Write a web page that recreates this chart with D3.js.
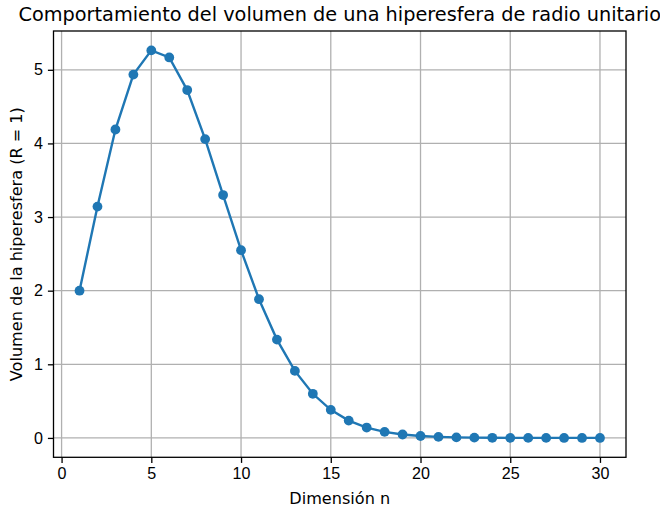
<!DOCTYPE html>
<html>
<head>
<meta charset="utf-8">
<script src="https://cdn.jsdelivr.net/npm/d3@7"></script>
<style>
  body { margin: 0; background: #fff; }
  svg { font-family: "DejaVu Sans", sans-serif; }
  .tick text { font-size: 16.1px; fill: #000; }
</style>
</head>
<body>
<svg id="fig" width="660" height="508"></svg>
<script>
// dimension n and volume of the unit n-ball
const dims = d3.range(1, 31);
const volumes = [2.0, 3.1416, 4.1888, 4.9348, 5.2638, 5.1677, 4.7248, 4.0587, 3.2985, 2.5502,
    1.8841, 1.3353, 0.9106, 0.5993, 0.3814, 0.2353, 0.1410, 0.0822, 0.0466, 0.0258,
    0.0139, 0.0073, 0.0038, 0.0019, 0.00095, 0.00046, 0.00022, 0.00010, 0.000047, 0.000021];
const xTicks = [0, 5, 10, 15, 20, 25, 30];
const yTicks = [0, 1, 2, 3, 4, 5];

const data = dims.map((n, i) => ({ n: n, v: volumes[i] }));

const mLeft = 53.5, mRight = 626, mTop = 31, mBottom = 457.3;
const color = "#1f77b4";

// matplotlib-style 5% padding
const xPad = (30 - 1) * 0.05;
const yMax = d3.max(volumes), yPad = yMax * 0.05;
const xScale = d3.scaleLinear().domain([1 - xPad, 30 + xPad]).range([mLeft, mRight]);
const yScale = d3.scaleLinear().domain([0 - yPad, yMax + yPad]).range([mBottom, mTop]);

const Fig = d3.select("#fig");

// grid
Fig.append("g").selectAll("line").data(xTicks).join("line")
    .attr("x1", d => xScale(d)).attr("x2", d => xScale(d))
    .attr("y1", mTop).attr("y2", mBottom)
    .attr("stroke", "#b0b0b0").attr("stroke-width", 1.3);
Fig.append("g").selectAll("line").data(yTicks).join("line")
    .attr("y1", d => yScale(d)).attr("y2", d => yScale(d))
    .attr("x1", mLeft).attr("x2", mRight)
    .attr("stroke", "#b0b0b0").attr("stroke-width", 1.3);

// line + markers
const line = d3.line().x(d => xScale(d.n)).y(d => yScale(d.v));
Fig.append("path").datum(data)
    .attr("d", line)
    .attr("fill", "none")
    .attr("stroke", color)
    .attr("stroke-width", 2.4);
Fig.append("g").selectAll("circle").data(data).join("circle")
    .attr("cx", d => xScale(d.n)).attr("cy", d => yScale(d.v))
    .attr("r", 4.9).attr("fill", color);

// axes
const x_axis = d3.axisBottom(xScale).tickValues(xTicks).tickFormat(d3.format("d")).tickSize(5.6).tickPadding(5);
const y_axis = d3.axisLeft(yScale).tickValues(yTicks).tickFormat(d3.format("d")).tickSize(5.6).tickPadding(5);

Fig.append("g")
    .attr("transform", `translate(0, ${mBottom})`)
    .call(x_axis)
    .call(g => g.select(".domain").remove())
    .call(g => g.selectAll(".tick line").attr("stroke-width", 1.3))
    .call(g => g.selectAll(".tick text").attr("font-family", null));

Fig.append("g")
    .attr("transform", `translate(${mLeft}, 0)`)
    .call(y_axis)
    .call(g => g.select(".domain").remove())
    .call(g => g.selectAll(".tick line").attr("stroke-width", 1.3))
    .call(g => g.selectAll(".tick text").attr("font-family", null));

// frame
Fig.append("rect")
    .attr("x", mLeft).attr("y", mTop)
    .attr("width", mRight - mLeft).attr("height", mBottom - mTop)
    .attr("fill", "none").attr("stroke", "#000").attr("stroke-width", 1.3);

// labels
Fig.append("text")
    .attr("x", (mLeft + mRight) / 2).attr("y", 504)
    .attr("text-anchor", "middle")
    .style("font-size", "16.1px")
    .text("Dimensión n");

Fig.append("text")
    .attr("transform", `translate(21.5, ${(mTop + mBottom) / 2}) rotate(-90)`)
    .attr("text-anchor", "middle")
    .style("font-size", "16.1px")
    .text("Volumen de la hiperesfera (R = 1)");

Fig.append("text")
    .attr("x", (mLeft + mRight) / 2).attr("y", 21)
    .attr("text-anchor", "middle")
    .style("font-size", "19.3px")
    .text("Comportamiento del volumen de una hiperesfera de radio unitario");
</script>
</body>
</html>
